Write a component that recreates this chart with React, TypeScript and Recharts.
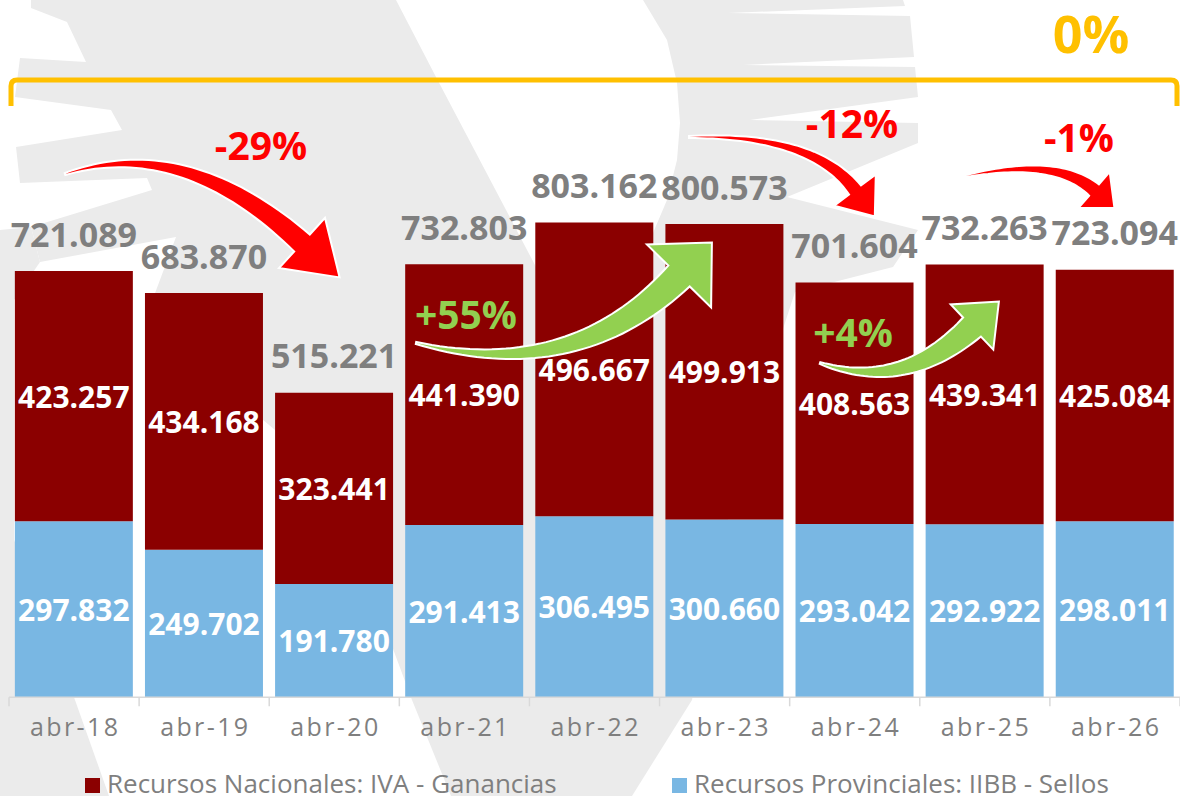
import React from "react";
import { BarChart, Bar, XAxis, YAxis, LabelList, Legend } from "recharts";

const periods = ["abr-18", "abr-19", "abr-20", "abr-21", "abr-22", "abr-23", "abr-24", "abr-25", "abr-26"];
const provinciales = [297.832, 249.702, 191.78, 291.413, 306.495, 300.66, 293.042, 292.922, 298.011];
const nacionales = [423.257, 434.168, 323.441, 441.39, 496.667, 499.913, 408.563, 439.341, 425.084];
const totales = [721.089, 683.87, 515.221, 732.803, 803.162, 800.573, 701.604, 732.263, 723.094];
const seriesNames = ["Recursos Nacionales: IVA - Ganancias", "Recursos Provinciales: IIBB - Sellos"];

const RED = "#8B0000";
const BLUE = "#79B7E3";
const GRAY_TEXT = "#7F7F7F";
const FONT = "'Open Sans', sans-serif";

const data = periods.map((p, i) => ({
  period: p,
  prov: provinciales[i],
  nac: nacionales[i],
  total: totales[i],
}));

const fmt = (v: number) => v.toFixed(3);

type Pt = [number, number];

// filled, tapering curved arrow (quadratic shaft + triangular head)
function arrowPath(p0: Pt, p1: Pt, p2: Pt, w0: number, w1: number, headLen: number, headHalf: number) {
  const n = 40;
  const left: Pt[] = [];
  const right: Pt[] = [];
  for (let i = 0; i <= n; i++) {
    const t = i / n;
    const x = (1 - t) * (1 - t) * p0[0] + 2 * t * (1 - t) * p1[0] + t * t * p2[0];
    const y = (1 - t) * (1 - t) * p0[1] + 2 * t * (1 - t) * p1[1] + t * t * p2[1];
    let dx = 2 * (1 - t) * (p1[0] - p0[0]) + 2 * t * (p2[0] - p1[0]);
    let dy = 2 * (1 - t) * (p1[1] - p0[1]) + 2 * t * (p2[1] - p1[1]);
    const len = Math.hypot(dx, dy) || 1;
    dx /= len;
    dy /= len;
    const w = (w0 + (w1 - w0) * t) / 2;
    left.push([x - dy * w, y + dx * w]);
    right.push([x + dy * w, y - dx * w]);
  }
  let ex = p2[0] - p1[0];
  let ey = p2[1] - p1[1];
  const el = Math.hypot(ex, ey) || 1;
  ex /= el;
  ey /= el;
  const headA: Pt = [p2[0] - ey * headHalf, p2[1] + ex * headHalf];
  const headB: Pt = [p2[0] + ey * headHalf, p2[1] - ex * headHalf];
  const tip: Pt = [p2[0] + ex * headLen, p2[1] + ey * headLen];
  const pts = [...left, headA, tip, headB, ...right.reverse()];
  return "M" + pts.map((p) => `${p[0].toFixed(1)},${p[1].toFixed(1)}`).join(" L") + " Z";
}

// bracket, arrows and percentage notes drawn over the bars
const Annotations = () => (
  <svg width={1180} height={796} style={{ position: "absolute", left: 0, top: 0, pointerEvents: "none" }}>
    <path
      d="M11,106 L11,86 Q11,80 17,80 L1171,80 Q1177,80 1177,86 L1177,106"
      fill="none"
      stroke="#FFC000"
      strokeWidth={5}
    />
    <text x={1091} y={53} textAnchor="middle" fill="#FFC000" fontSize={52} fontWeight={700} fontFamily={FONT}>
      0%
    </text>

    <path d={arrowPath([65, 174], [184, 135], [302, 243], 2, 23, 51, 34)} fill="#FF0000" stroke="#fff" strokeWidth={2} />
    <path d={arrowPath([689, 137], [813, 134], [855, 190], 2, 15, 33, 26)} fill="#FF0000" stroke="#fff" strokeWidth={2} />
    <path d={arrowPath([966, 176], [1056, 157], [1094, 190], 2, 15, 27, 24)} fill="#FF0000" stroke="#fff" strokeWidth={2} />
    <path d={arrowPath([416, 343], [574, 383], [679, 276], 2, 30, 47, 45)} fill="#92D050" stroke="#fff" strokeWidth={2} />
    <path d={arrowPath([820, 363], [903, 392], [972, 327], 2, 26, 37, 31)} fill="#92D050" stroke="#fff" strokeWidth={2} />

    <g fontFamily={FONT} fontWeight={700} fontSize={39} textAnchor="middle">
      <text x={261} y={160} fill="#FF0000">-29%</text>
      <text x={852} y={137.5} fill="#FF0000">-12%</text>
      <text x={1079} y={151.5} fill="#FF0000">-1%</text>
      <text x={466} y={328.5} fill="#92D050">+55%</text>
      <text x={853} y={347} fill="#92D050">+4%</text>
    </g>
  </svg>
);

const mainShape: Pt[] = [
  [31, 0], [396, 0], [436, 77], [536, 267], [590, 400], [605, 440],
  [615, 380], [632, 310], [643, 267], [653, 233], [667, 200], [677, 160], [680, 123], [677, 83], [667, 40], [643, 0],
  [903, 0], [905, 6], [728, 13], [910, 16], [914, 57], [743, 65], [915, 67], [918, 97], [750, 120], [918, 123],
  [918, 143], [787, 197], [918, 230], [893, 267],
  [795, 292], [760, 400], [720, 550], [692, 700], [632, 796], [451, 796], [412, 700], [360, 560], [275, 430],
  [145, 320], [176, 237], [40, 262],
  [31, 227], [152, 190], [147, 178], [20, 183], [16, 147], [122, 130], [111, 110], [15, 97], [20, 58], [86, 62],
  [67, 22], [31, 8],
];
const leftShape: Pt[] = [[0, 230], [31, 227], [40, 262], [14, 300], [14, 540], [75, 700], [109, 796], [0, 796]];

const Watermark = () => (
  <svg width={1180} height={796} style={{ position: "absolute", left: 0, top: 0 }}>
    <polygon points={mainShape.map((p) => p.join(",")).join(" ")} fill="#EBEBEB" />
    <polygon points={leftShape.map((p) => p.join(",")).join(" ")} fill="#EBEBEB" />
  </svg>
);

const InnerLabel = (props: any) => {
  const { x, y, width, height, value } = props;
  return (
    <text
      x={x + width / 2}
      y={y + height / 2 + 11.5}
      textAnchor="middle"
      fill="#fff"
      fontSize={30}
      fontWeight={700}
      fontFamily={FONT}
    >
      {fmt(value)}
    </text>
  );
};

const TotalLabel = (props: any) => {
  const { x, y, width, value } = props;
  return (
    <text
      x={x + width / 2}
      y={y - 24.5}
      textAnchor="middle"
      fill={GRAY_TEXT}
      fontSize={34}
      fontWeight={700}
      fontFamily={FONT}
    >
      {fmt(value)}
    </text>
  );
};

const PeriodTick = (props: any) => {
  const { x, y, payload, index } = props;
  const half = payload.offset || 65;
  return (
    <g>
      <line x1={x - half} x2={x - half} y1={y - 9} y2={y} stroke="#D9D9D9" strokeWidth={1.5} />
      {index === periods.length - 1 && (
        <line x1={x + half} x2={x + half} y1={y - 9} y2={y} stroke="#D9D9D9" strokeWidth={1.5} />
      )}
      <text
        x={x + 1.2}
        y={y + 30}
        textAnchor="middle"
        fill={GRAY_TEXT}
        fontSize={25}
        letterSpacing={2.4}
        fontFamily={FONT}
      >
        {payload.value}
      </text>
    </g>
  );
};

const LegendContent = () => (
  <svg width={1180} height={30}>
    <rect x={85} y={12} width={15} height={15} fill={RED} />
    <text x={107} y={27} fontSize={26} fill={GRAY_TEXT} fontFamily={FONT}>
      {seriesNames[0]}
    </text>
    <rect x={672} y={12} width={15} height={15} fill={BLUE} />
    <text x={694} y={27} fontSize={26} fill={GRAY_TEXT} fontFamily={FONT}>
      {seriesNames[1]}
    </text>
  </svg>
);

export default function App() {
  return (
    <div style={{ position: "absolute", left: 0, top: 0, width: 1180, height: 796, background: "#fff", overflow: "hidden" }}>
      <Watermark />
      <div style={{ position: "absolute", left: 0, top: 0 }}>
        <BarChart
          width={1180}
          height={796}
          data={data}
          margin={{ top: 165.3, right: 0, bottom: 38.7, left: 9 }}
          barCategoryGap="4.5%"
          style={{ fontFamily: FONT }}
        >
          <XAxis
            dataKey="period"
            height={60}
            interval={0}
            tickLine={false}
            tickSize={9}
            tickMargin={0}
            axisLine={{ stroke: "#D9D9D9", strokeWidth: 1.5 }}
            tick={<PeriodTick />}
          />
          <YAxis hide domain={[0, 900]} />
          <Legend
            layout="horizontal"
            verticalAlign="middle"
            align="center"
            wrapperStyle={{ top: 766, left: 0, width: 1180, height: 30 }}
            content={<LegendContent />}
          />
          <Bar dataKey="prov" name={seriesNames[1]} stackId="s" fill={BLUE} isAnimationActive={false}>
            <LabelList dataKey="prov" content={<InnerLabel />} />
          </Bar>
          <Bar dataKey="nac" name={seriesNames[0]} stackId="s" fill={RED} isAnimationActive={false}>
            <LabelList dataKey="nac" content={<InnerLabel />} />
            <LabelList dataKey="total" content={<TotalLabel />} />
          </Bar>
        </BarChart>
      </div>
      <Annotations />
    </div>
  );
}
